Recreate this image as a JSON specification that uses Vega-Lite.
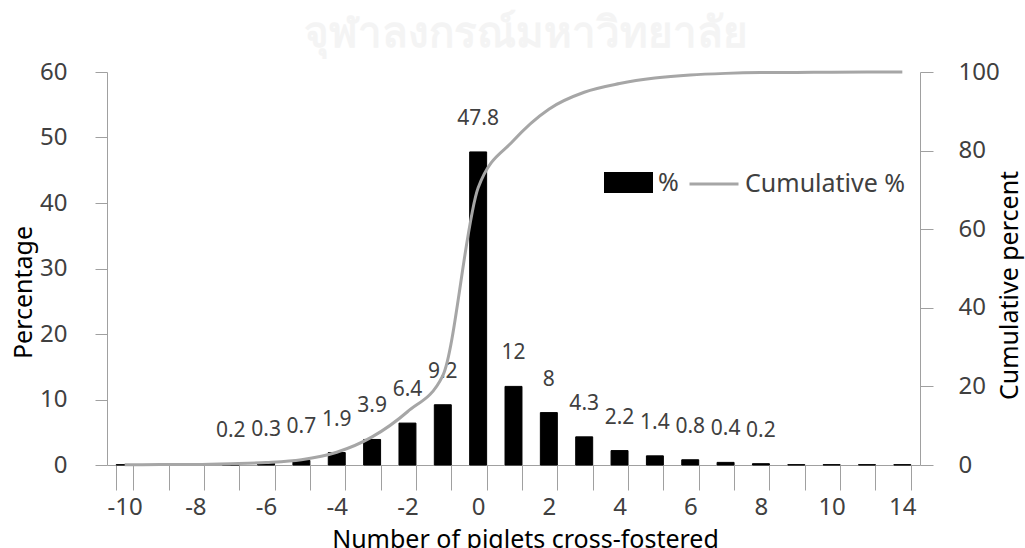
{
  "$schema": "https://vega.github.io/schema/vega-lite/v6.json",
  "width": 813,
  "height": 393,
  "autosize": "none",
  "padding": {"left": 107, "top": 72, "right": 105, "bottom": 83},
  "background": "white",
  "title": {"text": "จุฬาลงกรณ์มหาวิทยาลัย", "color": "#f4f4f4", "fontSize": 42, "font": "Noto Sans", "fontWeight": "bold", "anchor": "middle", "offset": 4, "dx": 12},
  "config": {
    "view": {"stroke": null},
    "font": "Noto Sans",
    "axis": {"grid": false, "domainColor": "#a0a0a0", "tickColor": "#a0a0a0", "labelColor": "#404040", "titleColor": "#000000", "labelFont": "Noto Sans", "titleFont": "Noto Sans", "titleFontWeight": "normal", "labelFontSize": 24, "titleFontSize": 25},
    "legend": {"labelFontSize": 25, "labelColor": "#404040", "labelFont": "Noto Sans", "labelLimit": 400, "labelOffset": 5, "padding": 0, "symbolSize": 2401, "title": null}
  },
  "data": {
    "values": [
      {"n": -10, "pct": 0.05, "cum": 0.05},
      {"n": -9, "pct": 0.05, "cum": 0.1},
      {"n": -8, "pct": 0.05, "cum": 0.15},
      {"n": -7, "pct": 0.2, "cum": 0.35},
      {"n": -6, "pct": 0.3, "cum": 0.65},
      {"n": -5, "pct": 0.7, "cum": 1.35},
      {"n": -4, "pct": 1.9, "cum": 3.25},
      {"n": -3, "pct": 3.9, "cum": 7.15},
      {"n": -2, "pct": 6.4, "cum": 13.55},
      {"n": -1, "pct": 9.2, "cum": 22.75},
      {"n": 0, "pct": 47.8, "cum": 70.55},
      {"n": 1, "pct": 12, "cum": 82.55},
      {"n": 2, "pct": 8, "cum": 90.55},
      {"n": 3, "pct": 4.3, "cum": 94.85},
      {"n": 4, "pct": 2.2, "cum": 97.05},
      {"n": 5, "pct": 1.4, "cum": 98.45},
      {"n": 6, "pct": 0.8, "cum": 99.25},
      {"n": 7, "pct": 0.4, "cum": 99.65},
      {"n": 8, "pct": 0.2, "cum": 99.85},
      {"n": 9, "pct": 0.05, "cum": 99.9},
      {"n": 10, "pct": 0.05, "cum": 99.95},
      {"n": 12, "pct": 0.05, "cum": 99.98},
      {"n": 14, "pct": 0.05, "cum": 100}
    ]
  },
  "encoding": {
    "x": {
      "field": "n",
      "type": "ordinal",
      "sort": "ascending",
      "scale": {"paddingInner": 0.52, "paddingOuter": 0.26},
      "axis": {
        "title": "Number of piglets cross-fostered",
        "labelAngle": 0,
        "labelOverlap": false,
        "labelExpr": "datum.value % 2 == 0 && datum.value != 12 ? datum.label : ''",
        "tickBand": "extent",
        "tickSize": 25,
        "labelPadding": 5,
        "labelBaseline": "top",
        "titleX": 418,
        "titleY": 74,
        "titleBaseline": "middle",
        "titleAnchor": null
      }
    }
  },
  "layer": [
    {
      "mark": {"type": "bar", "stroke": "black", "strokeWidth": 1},
      "encoding": {
        "y": {
          "field": "pct",
          "type": "quantitative",
          "scale": {"domain": [0, 60]},
          "axis": {
            "title": "Percentage",
            "values": [0, 10, 20, 30, 40, 50, 60],
            "tickSize": 12,
            "labelPadding": 28,
            "titleX": -84,
            "titleY": 220,
            "titleAngle": 270,
            "titleBaseline": "middle",
            "titleAlign": "center",
            "titleAnchor": null
          }
        },
        "fill": {
          "datum": "%",
          "type": "nominal",
          "scale": {"range": ["black"]},
          "legend": {
            "orient": "none",
            "legendX": 497,
            "legendY": 86,
            "symbolType": "M-1,-0.43H1V0.43H-1Z",
            "symbolStrokeWidth": 0
          }
        }
      }
    },
    {
      "transform": [{"filter": "datum.n >= -7 && datum.n <= 8"}],
      "mark": {"type": "text", "fontSize": 21, "color": "#404040", "baseline": "middle", "dy": -33, "font": "Noto Sans"},
      "encoding": {
        "y": {"field": "pct", "type": "quantitative", "scale": {"domain": [0, 60]}, "axis": null},
        "text": {"field": "pct", "type": "quantitative", "format": ".1~f"}
      }
    },
    {
      "mark": {"type": "line", "interpolate": "monotone", "strokeWidth": 3},
      "encoding": {
        "y": {
          "field": "cum",
          "type": "quantitative",
          "scale": {"domain": [0, 100]},
          "axis": {
            "orient": "right",
            "title": "Cumulative percent",
            "values": [0, 20, 40, 60, 80, 100],
            "tickSize": 13,
            "labelPadding": 25,
            "titleX": 89,
            "titleY": 213,
            "titleAngle": 270,
            "titleBaseline": "middle",
            "titleAlign": "center",
            "titleAnchor": null
          }
        },
        "stroke": {
          "datum": "Cumulative %",
          "type": "nominal",
          "scale": {"range": ["#a6a6a6"]},
          "legend": {
            "orient": "none",
            "legendX": 581,
            "legendY": 86,
            "symbolType": "M-1,0H1",
            "symbolStrokeWidth": 3
          }
        }
      }
    }
  ],
  "resolve": {"scale": {"y": "independent"}}
}
